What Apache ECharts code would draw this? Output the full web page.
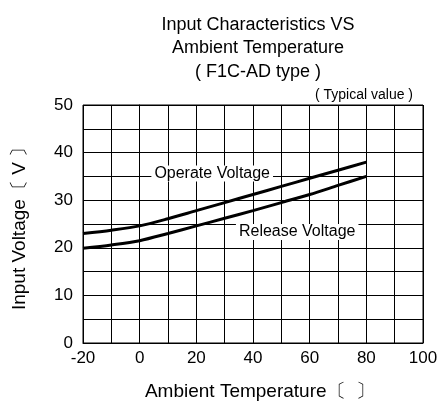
<!DOCTYPE html>
<html><head><meta charset="utf-8">
<script src="https://cdn.jsdelivr.net/npm/echarts@6/dist/echarts.min.js"></script>
<style>html,body{margin:0;padding:0;background:#fff}#c{width:447px;height:405px}</style>
</head><body><div id="c"></div>
<script>
var temps = [-20, -10, 0, 10, 20, 30, 40, 50, 60, 70, 80];
var operateVoltage = [23.0, 23.7, 24.6, 26.1, 27.8, 29.5, 31.2, 32.9, 34.6, 36.3, 38.0];
var releaseVoltage = [19.9, 20.6, 21.5, 23.0, 24.6, 26.2, 27.8, 29.5, 31.2, 33.1, 35.0];
var titleLines = ['Input Characteristics VS', 'Ambient Temperature', '( F1C-AD type )'];

var font = '"Liberation Sans", Arial, sans-serif';
var chart = echarts.init(document.getElementById('c'));
function pairs(xs, ys){ return xs.map(function(x,i){return [x, ys[i]];}); }
chart.setOption({
  animation:false,
  textStyle:{fontFamily:font},
  title:[{
    text: titleLines.join('\n'), left: 253, top: 8, textAlign:'center',
    textStyle:{fontFamily:font, fontSize:18, fontWeight:'normal', color:'#000', lineHeight:23.5}
  },{
    text:'( Typical value )', left: 359, top: 83, textAlign:'center',
    textStyle:{fontFamily:font, fontSize:14, fontWeight:'normal', color:'#000'}
  }],
  grid:{left:83, right:24, top:105, bottom:62, show:true, borderColor:'#000', borderWidth:1,
        containLabel:false, outerBoundsMode:'none'},
  xAxis:{
    type:'value', min:-20, max:100, interval:10,
    name:'Ambient Temperature〔  〕', nameLocation:'middle', nameGap:39,
    nameTextStyle:{fontFamily:font, fontSize:19, color:'#000', padding:[0,0,0,14]},
    axisLine:{lineStyle:{color:'#000'}}, axisTick:{show:false},
    axisLabel:{fontFamily:font, fontSize:17, color:'#000', margin:7,
      formatter:function(v){return (v%20===0)?String(v):'';}},
    splitLine:{show:true, lineStyle:{color:'#000', width:1}}
  },
  yAxis:{
    type:'value', min:0, max:50, interval:5,
    name:'Input Voltage〔 V 〕', nameLocation:'middle', nameGap:54, nameRotate:90,
    nameTextStyle:{fontFamily:font, fontSize:19, color:'#000'},
    axisLine:{show:true, lineStyle:{color:'#000'}}, axisTick:{show:false},
    axisLabel:{fontFamily:font, fontSize:17, color:'#000', margin:10,
      formatter:function(v){return (v%10===0)?String(v):'';}},
    splitLine:{show:true, lineStyle:{color:'#000', width:1}}
  },
  series:[{
    type:'line', data:pairs(temps, operateVoltage), smooth:0.3, symbol:'none',
    lineStyle:{color:'#000', width:3},
    markPoint:{symbol:'rect', symbolSize:0, data:[{coord:[25.6,35.6], label:{show:true, formatter:'Operate Voltage', fontFamily:font, fontSize:16, color:'#000', backgroundColor:'#fff', padding:[0,3]}}]}
  },{
    type:'line', data:pairs(temps, releaseVoltage), smooth:0.3, symbol:'none',
    lineStyle:{color:'#000', width:3},
    markPoint:{symbol:'rect', symbolSize:0, data:[{coord:[55.6,23.3], label:{show:true, formatter:'Release Voltage', fontFamily:font, fontSize:16, color:'#000', backgroundColor:'#fff', padding:[0,3]}}]}
  }]
});
</script></body></html>
